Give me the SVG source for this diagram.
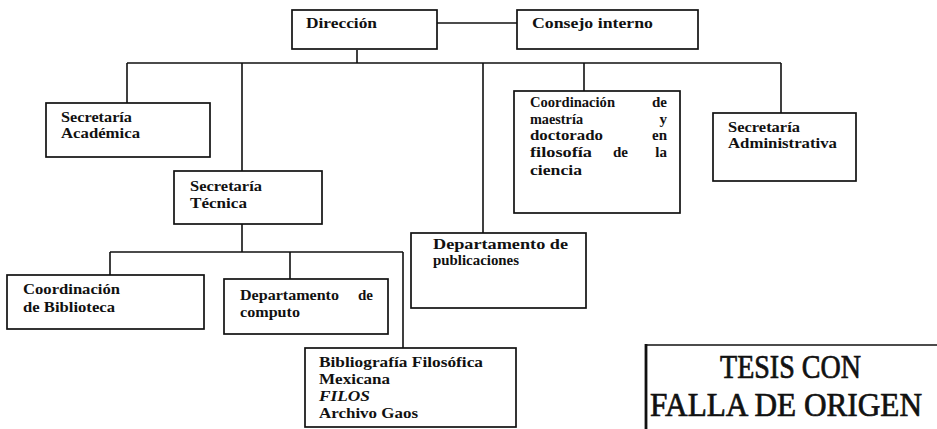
<svg xmlns="http://www.w3.org/2000/svg" width="937" height="429" viewBox="0 0 937 429">
<style>
.box{fill:none;stroke:#111;stroke-width:1.7}
.ln{fill:none;stroke:#111;stroke-width:1.6}
.t{font-family:"Liberation Serif","Times New Roman",serif;font-weight:bold;font-size:15px;fill:#111}
.i{font-style:italic}
.s{font-family:"Liberation Serif","Times New Roman",serif;font-size:33px;fill:#111;stroke:#111;stroke-width:0.7}
</style>
<rect width="937" height="429" fill="#fff"/>
<g id="connectors">
<path class="ln" d="M437 23H517"/>
<path class="ln" d="M357 50V63M127 63H781M127 63V103M242 63V171M483 63V233M584 63V91M781 63V113"/>
<path class="ln" d="M242 224V252M110 252H403M110 252V275M290 252V279M403 252V348"/>
</g>
<g id="direccion">
<rect class="box" x="292" y="10" width="145" height="39"/>
<text class="t" x="306" y="28" textLength="71" lengthAdjust="spacingAndGlyphs">Dirección</text>
</g>
<g id="consejo">
<rect class="box" x="517" y="10" width="181" height="39"/>
<text class="t" x="532" y="28" textLength="121" lengthAdjust="spacingAndGlyphs">Consejo interno</text>
</g>
<g id="sec-academica">
<rect class="box" x="46" y="103" width="164" height="54"/>
<text class="t" x="61" y="122" textLength="71" lengthAdjust="spacingAndGlyphs">Secretaría</text>
<text class="t" x="61" y="138" textLength="79" lengthAdjust="spacingAndGlyphs">Académica</text>
</g>
<g id="sec-tecnica">
<rect class="box" x="174" y="171" width="148" height="53"/>
<text class="t" x="190" y="191" textLength="72" lengthAdjust="spacingAndGlyphs">Secretaría</text>
<text class="t" x="190" y="208" textLength="57" lengthAdjust="spacingAndGlyphs">Técnica</text>
</g>
<g id="coord-maestria">
<rect class="box" x="514" y="91" width="166" height="122"/>
<text class="t" x="530" y="107" textLength="85" lengthAdjust="spacingAndGlyphs">Coordinación</text>
<text class="t" x="667" y="107" text-anchor="end">de</text>
<text class="t" x="530" y="124" textLength="53" lengthAdjust="spacingAndGlyphs">maestría</text>
<text class="t" x="667" y="124" text-anchor="end">y</text>
<text class="t" x="530" y="140" textLength="73" lengthAdjust="spacingAndGlyphs">doctorado</text>
<text class="t" x="667" y="140" text-anchor="end">en</text>
<text class="t" x="530" y="157" textLength="62" lengthAdjust="spacingAndGlyphs">filosofía</text>
<text class="t" x="613" y="157">de</text>
<text class="t" x="667" y="157" text-anchor="end">la</text>
<text class="t" x="530" y="175" textLength="52" lengthAdjust="spacingAndGlyphs">ciencia</text>
</g>
<g id="sec-administrativa">
<rect class="box" x="713" y="113" width="143" height="68"/>
<text class="t" x="728" y="132" textLength="72" lengthAdjust="spacingAndGlyphs">Secretaría</text>
<text class="t" x="728" y="148" textLength="109" lengthAdjust="spacingAndGlyphs">Administrativa</text>
</g>
<g id="depto-publicaciones">
<rect class="box" x="411" y="233" width="175" height="75"/>
<text class="t" x="433" y="249" textLength="135" lengthAdjust="spacingAndGlyphs">Departamento de</text>
<text class="t" x="433" y="265" textLength="86" lengthAdjust="spacingAndGlyphs">publicaciones</text>
</g>
<g id="coord-biblioteca">
<rect class="box" x="7" y="275" width="197" height="54"/>
<text class="t" x="23" y="294" textLength="97" lengthAdjust="spacingAndGlyphs">Coordinación</text>
<text class="t" x="23" y="312" textLength="92" lengthAdjust="spacingAndGlyphs">de Biblioteca</text>
</g>
<g id="depto-computo">
<rect class="box" x="224" y="279" width="164" height="55"/>
<text class="t" x="240" y="300" textLength="99" lengthAdjust="spacingAndGlyphs">Departamento</text>
<text class="t" x="373" y="300" text-anchor="end">de</text>
<text class="t" x="240" y="317" textLength="60" lengthAdjust="spacingAndGlyphs">computo</text>
</g>
<g id="bibliografia">
<rect class="box" x="305" y="348" width="211" height="79"/>
<text class="t" x="319" y="367" textLength="164" lengthAdjust="spacingAndGlyphs">Bibliografía Filosófica</text>
<text class="t" x="319" y="384" textLength="71" lengthAdjust="spacingAndGlyphs">Mexicana</text>
<text class="t i" x="319" y="401" textLength="51" lengthAdjust="spacingAndGlyphs">FILOS</text>
<text class="t" x="319" y="418" textLength="99" lengthAdjust="spacingAndGlyphs">Archivo Gaos</text>
</g>
<g id="sello">
<path d="M646 345H940" fill="none" stroke="#111" stroke-width="1.6"/>
<path d="M646 344V432" fill="none" stroke="#111" stroke-width="2.8"/>
<text class="s" x="720" y="378" textLength="141" lengthAdjust="spacingAndGlyphs">TESIS CON</text>
<text class="s" x="650" y="416" textLength="272" lengthAdjust="spacingAndGlyphs">FALLA DE ORIGEN</text>
</g>
</svg>
